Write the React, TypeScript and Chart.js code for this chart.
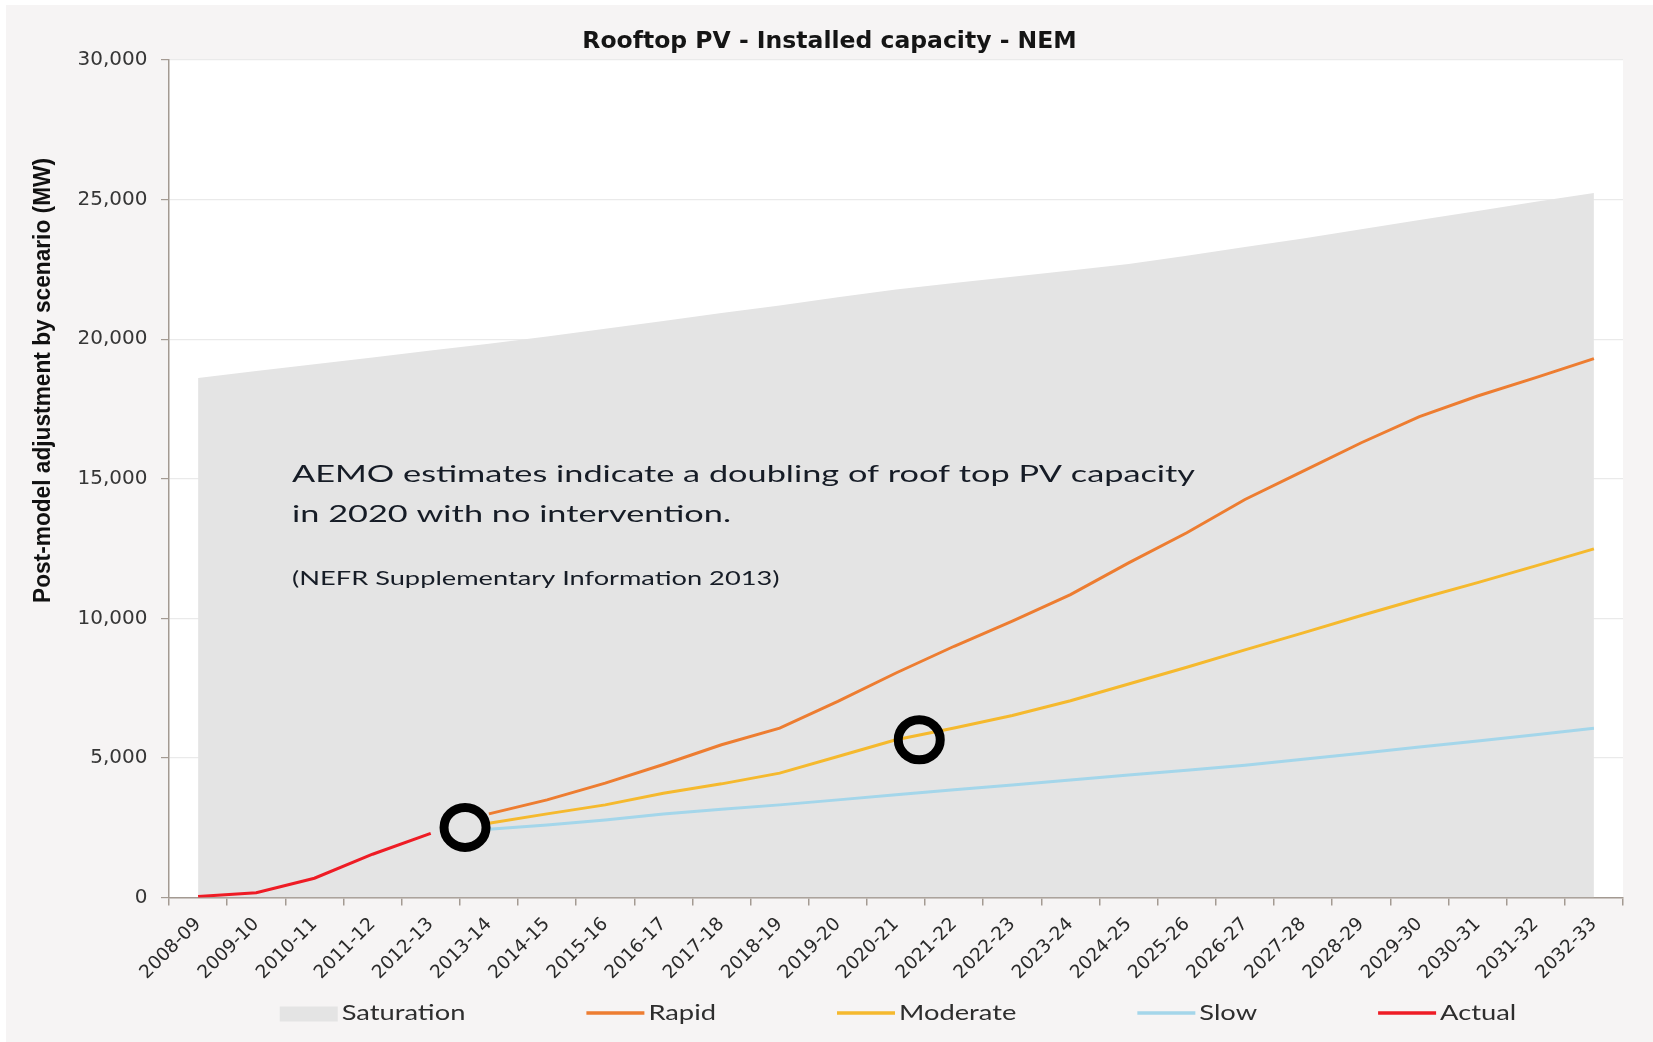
import React, { useEffect, useRef } from 'react';
import { Chart, registerables } from 'chart.js';

Chart.register(...registerables);

// Financial years on the category axis
const financialYears = [
  '2008-09', '2009-10', '2010-11', '2011-12', '2012-13', '2013-14', '2014-15',
  '2015-16', '2016-17', '2017-18', '2018-19', '2019-20', '2020-21', '2021-22',
  '2022-23', '2023-24', '2024-25', '2025-26', '2026-27', '2027-28', '2028-29',
  '2029-30', '2030-31', '2031-32', '2032-33',
];

// Installed capacity by scenario (MW)
const saturation = [
  18610, 18860, 19100, 19340, 19590, 19840, 20100, 20370, 20650, 20935, 21210,
  21500, 21780, 22010, 22240, 22460, 22690, 22990, 23300, 23610, 23940, 24270,
  24590, 24920, 25240,
];
const rapid = [
  null, null, null, null, null, 2995, 3497, 4096, 4764, 5470, 6068, 7024, 8042,
  9000, 9900, 10851, 11988, 13064, 14258, 15274, 16290, 17223, 17963, 18623, 19305,
];
const moderate = [
  null, null, null, null, null, 2661, 2995, 3318, 3737, 4071, 4455, 5051, 5649,
  6070, 6520, 7050, 7650, 8250, 8870, 9480, 10100, 10700, 11280, 11880, 12490,
];
const slow = [
  null, null, null, null, null, 2446, 2600, 2780, 2995, 3164, 3318, 3497, 3677,
  3856, 4030, 4210, 4390, 4560, 4740, 4950, 5170, 5390, 5610, 5830, 6060,
];
const actual = [
  40, 170, 690, 1550, 2300, null, null, null, null, null, null, null, null,
  null, null, null, null, null, null, null, null, null, null, null, null,
];

// Circled points: position on the year axis and capacity (MW)
const highlightPositions = [4.59, 12.4];
const highlightValues = [2510, 5650];

// Call-out text
const noteLines = [
  'AEMO estimates indicate a doubling of roof top PV capacity',
  'in 2020 with no intervention.',
];
const noteSource = '(NEFR Supplementary Information 2013)';

const chartTitle = 'Rooftop PV - Installed capacity - NEM';
const yAxisTitle = 'Post-model adjustment by scenario (MW)';

// Styling
const COLORS = {
  panel: '#f6f4f4',
  plot: '#ffffff',
  saturation: '#e4e4e4',
  rapid: '#ed7d31',
  moderate: '#f5b92e',
  slow: '#a4d6ea',
  actual: '#ee1c25',
  axis: '#a39a92',
  grid: '#eaeaea',
  text: '#2e2e2e',
  note: '#161c26',
};

const CANVAS_W = 1647;
const CANVAS_H = 1037;

function drawStretched(ctx: CanvasRenderingContext2D, text: string, x: number, y: number, sx: number) {
  ctx.save();
  ctx.translate(x, y);
  ctx.scale(sx, 1);
  ctx.fillText(text, 0, 0);
  ctx.restore();
}

// White plot area
const plotBackground = {
  id: 'plotBackground',
  beforeDraw(chart: any) {
    const { ctx, chartArea } = chart;
    ctx.save();
    ctx.fillStyle = COLORS.plot;
    ctx.fillRect(chartArea.left, chartArea.top, chartArea.right - chartArea.left, chartArea.bottom - chartArea.top);
    ctx.restore();
  },
};

// Black rings around the highlighted points plus the call-out text
const callouts = {
  id: 'callouts',
  afterDatasetsDraw(chart: any) {
    const { ctx, chartArea, scales } = chart;
    ctx.save();
    ctx.strokeStyle = '#000000';
    ctx.lineWidth = 9;
    highlightPositions.forEach((pos, i) => {
      const cx = scales.x.getPixelForValue(pos);
      const cy = scales.y.getPixelForValue(highlightValues[i]);
      ctx.beginPath();
      ctx.ellipse(cx, cy, 21, 20, 0, 0, Math.PI * 2);
      ctx.stroke();
    });

    ctx.fillStyle = COLORS.note;
    ctx.textAlign = 'left';
    ctx.textBaseline = 'alphabetic';
    ctx.font = '23.3px Lato';
    const left = chartArea.left + 123;
    const stretch = 903 / ctx.measureText(noteLines[0]).width;
    drawStretched(ctx, noteLines[0], left, chartArea.top + 421.7, stretch);
    drawStretched(ctx, noteLines[1], left, chartArea.top + 461.7, stretch);
    ctx.font = '18.5px Lato';
    drawStretched(ctx, noteSource, left, chartArea.top + 525, stretch);
    ctx.restore();
  },
};

// Rotated y-axis title, placed towards the upper part of the axis
const yTitle = {
  id: 'yTitle',
  afterDraw(chart: any) {
    const { ctx } = chart;
    ctx.save();
    ctx.font = 'bold 24.5px "Liberation Sans"';
    ctx.fillStyle = '#111111';
    ctx.textAlign = 'center';
    ctx.textBaseline = 'alphabetic';
    const sx = 445 / ctx.measureText(yAxisTitle).width;
    ctx.translate(43.5, 375.5);
    ctx.rotate(-Math.PI / 2);
    ctx.scale(sx, 1);
    ctx.fillText(yAxisTitle, 0, 0);
    ctx.restore();
  },
};

// Legend row under the axis labels
const bottomLegend = {
  id: 'bottomLegend',
  afterDraw(chart: any) {
    const { ctx, chartArea } = chart;
    const datasets = chart.data.datasets;
    ctx.save();
    ctx.font = '21px Lato';
    ctx.textBaseline = 'alphabetic';
    ctx.textAlign = 'left';
    const markerW = 58;
    const textGap = 4;
    const itemGap = 121;
    const stretch = 1.3;
    const widths = datasets.map((d: any) => markerW + textGap + ctx.measureText(d.label).width * stretch);
    const total = widths.reduce((a: number, b: number) => a + b, 0) + itemGap * (datasets.length - 1);
    let x = (chartArea.left + chartArea.right) / 2 - total / 2 + 2;
    const midY = 1008;
    datasets.forEach((d: any, i: number) => {
      if (d.fill) {
        ctx.fillStyle = d.backgroundColor;
        ctx.fillRect(x, midY - 6.5, markerW, 15);
      } else {
        ctx.strokeStyle = d.borderColor;
        ctx.lineWidth = d.borderWidth + 0.5;
        ctx.beginPath();
        ctx.moveTo(x, midY);
        ctx.lineTo(x + markerW, midY);
        ctx.stroke();
      }
      ctx.fillStyle = COLORS.text;
      drawStretched(ctx, d.label, x + markerW + textGap, 1015, stretch);
      x += widths[i] + itemGap;
    });
    ctx.restore();
  },
};

export default function App() {
  const canvasRef = useRef<HTMLCanvasElement | null>(null);

  useEffect(() => {
    const canvas = canvasRef.current;
    if (!canvas) return;
    const lineStyle = { pointRadius: 0, pointHoverRadius: 0, fill: false, tension: 0, spanGaps: false };
    const chart = new Chart(canvas, {
      type: 'line',
      data: {
        labels: financialYears,
        datasets: [
          { label: 'Saturation', data: saturation, fill: 'origin', backgroundColor: COLORS.saturation, borderColor: COLORS.saturation, borderWidth: 0, pointRadius: 0, order: 4 },
          { label: 'Rapid', data: rapid, borderColor: COLORS.rapid, borderWidth: 3, order: 3, ...lineStyle },
          { label: 'Moderate', data: moderate, borderColor: COLORS.moderate, borderWidth: 3, order: 2, ...lineStyle },
          { label: 'Slow', data: slow, borderColor: COLORS.slow, borderWidth: 3, order: 1, ...lineStyle },
          { label: 'Actual', data: actual, borderColor: COLORS.actual, borderWidth: 3, order: 0, ...lineStyle },
        ],
      },
      options: {
        animation: false,
        responsive: false,
        events: [],
        layout: { padding: { left: 30, right: 30, top: 0, bottom: 0 } },
        plugins: {
          legend: { display: false },
          tooltip: { enabled: false },
          title: {
            display: true,
            text: chartTitle,
            color: '#151515',
            font: { family: 'DejaVu Sans', size: 23.5, weight: 'bold' },
            padding: { top: 22.6, bottom: 4.2 },
          },
        },
        scales: {
          x: {
            type: 'category',
            offset: true,
            grid: { offset: true, drawOnChartArea: false, drawTicks: true, tickLength: 8, tickColor: COLORS.axis, lineWidth: 1.5 },
            border: { color: COLORS.axis, width: 1.5 },
            ticks: {
              autoSkip: false,
              minRotation: 45,
              maxRotation: 45,
              padding: 8,
              color: '#2a2a2a',
              font: { family: 'DejaVu Sans', size: 18.5 },
            },
            afterFit: (scale: any) => { scale.height = CANVAS_H - 892.5; },
          },
          y: {
            min: 0,
            max: 30000,
            ticks: { stepSize: 5000, padding: 13.5, color: '#363636', font: { family: 'DejaVu Sans', size: 20 } },
            grid: { color: COLORS.grid, tickColor: COLORS.axis, tickLength: 8, lineWidth: 1.2 },
            border: { color: COLORS.axis, width: 1.5 },
            afterFit: (scale: any) => { scale.width = 133; },
          },
        },
      },
      plugins: [plotBackground, callouts, yTitle, bottomLegend],
    } as any);
    return () => chart.destroy();
  }, []);

  return (
    <div style={{ position: 'absolute', left: 0, top: 0, width: 1653, height: 1042, background: '#ffffff', overflow: 'hidden' }}>
      <div style={{ position: 'absolute', left: 6, top: 5, width: CANVAS_W, height: CANVAS_H, background: COLORS.panel }}>
        <canvas ref={canvasRef} width={CANVAS_W} height={CANVAS_H} style={{ display: 'block' }} />
      </div>
    </div>
  );
}
